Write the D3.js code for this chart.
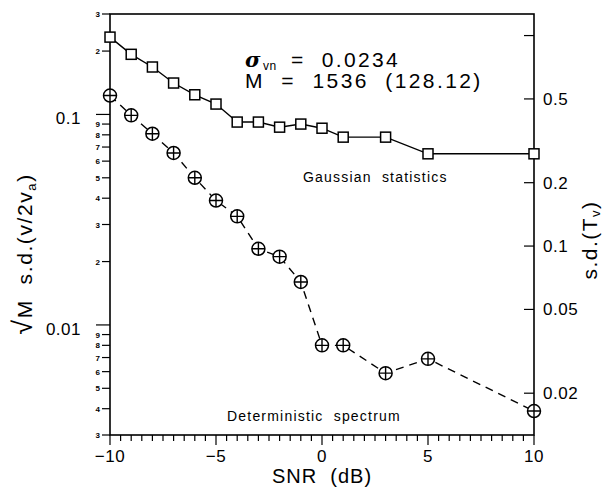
<!DOCTYPE html>
<html>
<head>
<meta charset="utf-8">
<script src="https://cdn.jsdelivr.net/npm/d3@7"></script>
<style>
  body { margin: 0; background: #fff; }
  svg { font-family: "Liberation Sans", Arial, sans-serif; }
  text { fill: #000; }
</style>
</head>
<body>
<div id="chart"></div>
<script>
// data
const snr = [-10, -9, -8, -7, -6, -5, -4, -3, -2, -1, 0, 1, 3, 5, 10];
const gaussian = [0.233, 0.193, 0.168, 0.141, 0.124, 0.112, 0.092, 0.092, 0.087, 0.090, 0.086, 0.078, 0.078, 0.065, 0.065];
const deterministic = [0.123, 0.099, 0.081, 0.0656, 0.050, 0.039, 0.0328, 0.0230, 0.0211, 0.0160, 0.0080, 0.0080, 0.0059, 0.0069, 0.0039];
const xTicks = [-10, -5, 0, 5, 10];
const leftDecades = [0.1, 0.01];
const rightTicks = [0.02, 0.05, 0.1, 0.2, 0.5];
const rightScaleFactor = 4.22; // s.d.(Tv) = factor * left value

const width = 605;
const height = 488;
const margin = { left: 110, right: 71, top: 14, bottom: 53 };

const svg = d3.select('#chart')
  .append('svg')
  .attr('width', width)
  .attr('height', height);

const x = d3.scaleLinear()
  .domain([-10, 10])
  .range([margin.left, width - margin.right]);

const y = d3.scaleLog()
  .domain([0.003, 0.3])
  .range([height - margin.bottom, margin.top]);

const yRight = d3.scaleLog()
  .domain([0.003 * rightScaleFactor, 0.3 * rightScaleFactor])
  .range(y.range());

const x0 = x.range()[0], x1 = x.range()[1];
const yb = y.range()[0], yt = y.range()[1];

// frame
svg.append('rect')
  .attr('x', x0).attr('y', yt)
  .attr('width', x1 - x0).attr('height', yb - yt)
  .attr('fill', 'none').attr('stroke', '#000').attr('stroke-width', 1.6);

// x axis: minor ticks every 0.5, major every 5
const xMinor = d3.range(-10, 10.01, 0.5);
svg.append('g').selectAll('line')
  .data(xMinor)
  .join('line')
  .attr('x1', (d) => x(d)).attr('x2', (d) => x(d))
  .attr('y1', yb)
  .attr('y2', (d) => yb + (d % 5 === 0 ? 10 : 6))
  .attr('stroke', '#000').attr('stroke-width', 1.2);

svg.append('g').selectAll('text')
  .data(xTicks)
  .join('text')
  .attr('x', (d) => x(d))
  .attr('y', yb + 27)
  .attr('text-anchor', 'middle')
  .attr('font-size', 17)
  .attr('letter-spacing', 0.5)
  .text((d) => d < 0 ? '\u2212' + Math.abs(d) : d);

svg.append('text')
  .attr('x', (x0 + x1) / 2)
  .attr('y', 483)
  .attr('text-anchor', 'middle')
  .attr('font-size', 20)
  .attr('letter-spacing', 1)
  .attr('xml:space', 'preserve')
  .text('SNR  (dB)');

// left log axis
const leftMinor = [];
[0.001, 0.01, 0.1].forEach((dec) => {
  for (let m = 2; m <= 9; m++) {
    const v = dec * m;
    if (v >= 0.003 - 1e-9 && v <= 0.3 + 1e-9) leftMinor.push({ v, m });
  }
});

svg.append('g').selectAll('line')
  .data(leftMinor)
  .join('line')
  .attr('x1', x0 - 8).attr('x2', x0)
  .attr('y1', (d) => y(d.v)).attr('y2', (d) => y(d.v))
  .attr('stroke', '#000').attr('stroke-width', 1.2);

svg.append('g').selectAll('text')
  .data(leftMinor)
  .join('text')
  .attr('x', x0 - 10)
  .attr('y', (d) => y(d.v) + 3)
  .attr('text-anchor', 'end')
  .attr('font-size', 8)
  .attr('font-weight', 'bold')
  .text((d) => d.m);

svg.append('g').selectAll('line')
  .data(leftDecades)
  .join('line')
  .attr('x1', x0 - 14).attr('x2', x0)
  .attr('y1', (d) => y(d)).attr('y2', (d) => y(d))
  .attr('stroke', '#000').attr('stroke-width', 1.2);

svg.append('g').selectAll('text')
  .data(leftDecades)
  .join('text')
  .attr('x', x0 - 29)
  .attr('y', (d) => y(d) + 10)
  .attr('text-anchor', 'end')
  .attr('font-size', 17)
  .attr('letter-spacing', 0.5)
  .text((d) => d);

svg.append('text')
  .attr('transform', `translate(32,254) rotate(-90)`)
  .attr('text-anchor', 'middle')
  .attr('font-size', 21)
  .attr('letter-spacing', 1.6)
  .attr('xml:space', 'preserve')
  .html('<tspan font-size="27">\u221A</tspan>M  s.d.(v/2v<tspan font-size="13" dy="4">a</tspan><tspan dy="-4">)</tspan>');

// right log axis
const rightAll = [1].concat(rightTicks);
svg.append('g').selectAll('line')
  .data(rightAll)
  .join('line')
  .attr('x1', x1 - 10).attr('x2', x1)
  .attr('y1', (d) => yRight(d)).attr('y2', (d) => yRight(d))
  .attr('stroke', '#000').attr('stroke-width', 1.2);

svg.append('g').selectAll('text')
  .data(rightTicks)
  .join('text')
  .attr('x', x1 + 9)
  .attr('y', (d) => yRight(d) + 6)
  .attr('font-size', 17)
  .attr('letter-spacing', 0.5)
  .text((d) => d);

svg.append('text')
  .attr('transform', `translate(597,240) rotate(-90)`)
  .attr('text-anchor', 'middle')
  .attr('font-size', 21)
  .attr('letter-spacing', 1.5)
  .html('s.d.(T<tspan font-size="13" dy="3">v</tspan><tspan dy="-3">)</tspan>');

// series lines
const line = d3.line()
  .x((d) => x(d[0]))
  .y((d) => y(d[1]));

svg.append('path')
  .datum(d3.zip(snr, gaussian))
  .attr('d', line)
  .attr('fill', 'none').attr('stroke', '#000').attr('stroke-width', 1.4);

svg.append('path')
  .datum(d3.zip(snr, deterministic))
  .attr('d', line)
  .attr('fill', 'none').attr('stroke', '#000').attr('stroke-width', 1.4)
  .attr('stroke-dasharray', '8,6');

// square markers
svg.append('g').selectAll('rect')
  .data(d3.zip(snr, gaussian))
  .join('rect')
  .attr('x', (d) => x(d[0]) - 5)
  .attr('y', (d) => y(d[1]) - 5)
  .attr('width', 10).attr('height', 10)
  .attr('fill', '#fff').attr('stroke', '#000').attr('stroke-width', 1.5);

// circled-plus markers
const cross = svg.append('g').selectAll('g')
  .data(d3.zip(snr, deterministic))
  .join('g')
  .attr('transform', (d) => `translate(${x(d[0])},${y(d[1])})`);

cross.append('circle')
  .attr('r', 6.5)
  .attr('fill', '#fff').attr('stroke', '#000').attr('stroke-width', 1.5);
cross.append('path')
  .attr('d', 'M-6.5,0H6.5M0,-6.5V6.5')
  .attr('stroke', '#000').attr('stroke-width', 1.4);

// annotations
svg.append('text')
  .attr('x', 245).attr('y', 67)
  .attr('font-size', 21)
  .attr('font-style', 'italic')
  .attr('font-weight', 'bold')
  .attr('font-family', 'DejaVu Serif')
  .text('\u03C3');

svg.append('text')
  .attr('x', 263).attr('y', 70)
  .attr('font-size', 12)
  .attr('letter-spacing', 0.5)
  .text('vn');

svg.append('text')
  .attr('x', 291).attr('y', 67)
  .attr('font-size', 21)
  .attr('letter-spacing', 2.3)
  .attr('xml:space', 'preserve')
  .text('=  0.0234');

svg.append('text')
  .attr('x', 245).attr('y', 88)
  .attr('font-size', 21)
  .attr('letter-spacing', 2.4)
  .attr('xml:space', 'preserve')
  .text('M  =  1536  (128.12)');

svg.append('text')
  .attr('x', 303).attr('y', 182)
  .attr('font-size', 14)
  .attr('letter-spacing', 1.2)
  .attr('xml:space', 'preserve')
  .text('Gaussian  statistics');

svg.append('text')
  .attr('x', 227).attr('y', 421)
  .attr('font-size', 14)
  .attr('letter-spacing', 1.2)
  .attr('xml:space', 'preserve')
  .text('Deterministic  spectrum');
</script>
</body>
</html>
